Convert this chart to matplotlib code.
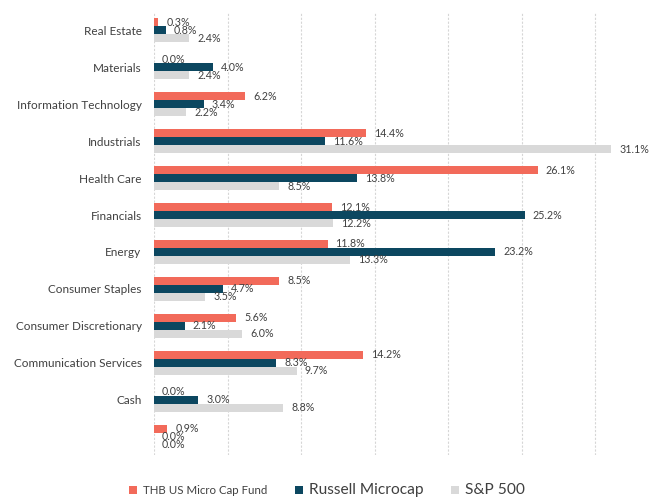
import matplotlib
matplotlib.use("Agg")
import matplotlib.pyplot as plt
import numpy as np

categories = ["Real Estate", "Materials", "Information Technology", "Industrials",
              "Health Care", "Financials", "Energy", "Consumer Staples",
              "Consumer Discretionary", "Communication Services", "Cash", ""]
fund = [0.3, 0.0, 6.2, 14.4, 26.1, 12.1, 11.8, 8.5, 5.6, 14.2, 0.0, 0.9]
russell = [0.8, 4.0, 3.4, 11.6, 13.8, 25.2, 23.2, 4.7, 2.1, 8.3, 3.0, 0.0]
sp500 = [2.4, 2.4, 2.2, 31.1, 8.5, 12.2, 13.3, 3.5, 6.0, 9.7, 8.8, 0.0]
series_names = ["THB US Micro Cap Fund", "Russell Microcap", "S&P 500"]
colors = ["#F26A5A", "#0C4760", "#D9D9D9"]

plt.rcParams['font.family'] = ['Lato', 'DejaVu Sans']

W, H = 649, 497
fig = plt.figure(figsize=(W / 100, H / 100), dpi=100)
left_px, right_px, top_px, bot_px = 154, 649, 12, 455
ax = fig.add_axes([left_px / W, (H - bot_px) / H, (right_px - left_px) / W, (bot_px - top_px) / H])

px_per_pct = 14.71
xmax = (right_px - left_px) / px_per_pct
n = len(categories)
y = np.arange(n)
bh = 8 / ((bot_px - top_px) / n)

data = [fund, russell, sp500]
offsets = [-bh, 0, bh]
handles = []
for vals, off, col, name in zip(data, offsets, colors, series_names):
    bars = ax.barh(y + off, vals, height=bh, color=col, label=name, zorder=3)
    handles.append(bars)
    for yy, v in zip(y + off, vals):
        ax.annotate(f"{v:.1f}%", xy=(v, yy), xytext=(8 * 0.72, 0), textcoords="offset points",
                    ha="left", va="center", fontsize=7.7, color="#404040", zorder=4,
                    annotation_clip=False)

ax.set_xlim(0, xmax)
ax.set_ylim(n - 0.5, -0.5)
ax.set_yticks(y)
ax.set_yticklabels(categories, fontsize=8.5, color="#404040")
ax.tick_params(axis="y", length=0, pad=9)
ax.set_xticks(np.arange(0, 35, 5))
ax.tick_params(axis="x", length=0, labelbottom=False)
ax.grid(axis="x", color="#D6D6D6", linestyle=(0, (2, 1.5)), linewidth=0.8, zorder=0)
for s in ax.spines.values():
    s.set_visible(False)

leg = fig.legend(handles=handles, labels=series_names, loc="center",
                 bbox_to_anchor=(327 / W, 1 - 490 / H), ncol=3, frameon=False,
                 handlelength=0.7, handleheight=0.7, handletextpad=0.5,
                 columnspacing=2.3, fontsize=8.5)
sizes = [8.3, 11.2, 11.2]
for t, s in zip(leg.get_texts(), sizes):
    t.set_fontsize(s)
    t.set_color("#404040")

fig.savefig("out.png", dpi=100)
